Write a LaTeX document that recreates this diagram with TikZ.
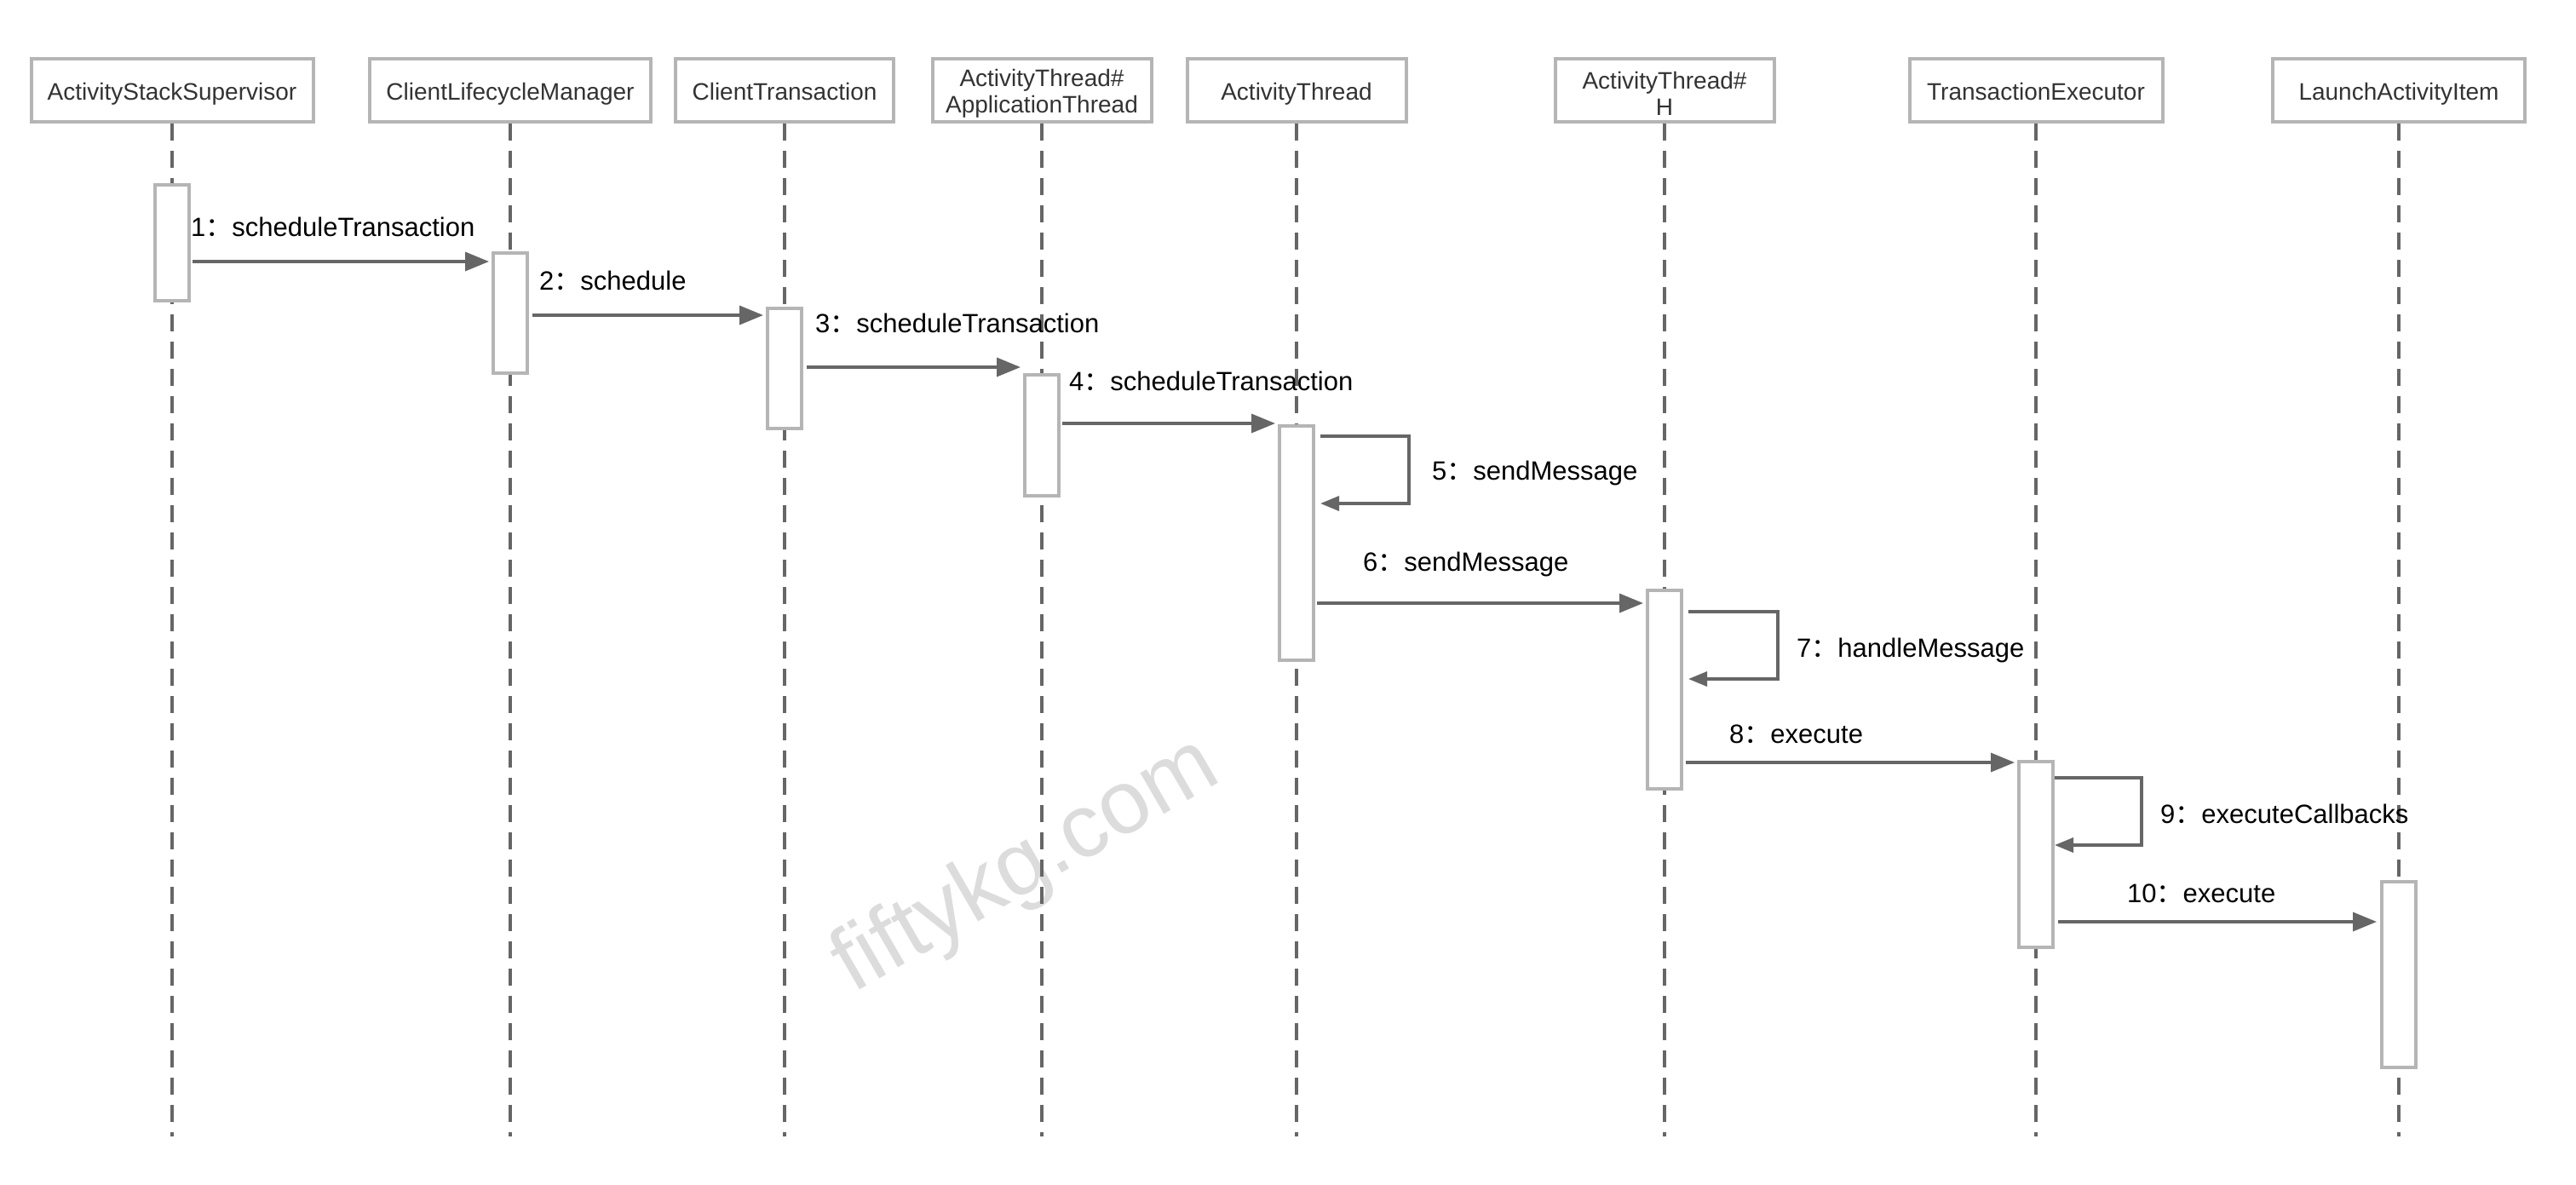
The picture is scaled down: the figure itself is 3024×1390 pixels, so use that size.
\documentclass[tikz,border=0pt]{standalone}
\usepackage{fontspec}
\setmainfont{Liberation Sans}
\newfontfamily\cjk{Noto Sans CJK SC}
\usetikzlibrary{arrows.meta,calc}
\definecolor{boxgray}{HTML}{B5B5B5}
\definecolor{linegray}{HTML}{666666}
\definecolor{hdrtext}{HTML}{333333}
\definecolor{wmgray}{HTML}{DCDCDC}
\newcommand{\fwcolon}{{\cjk ：}}
\begin{document}
\begin{tikzpicture}[x=1pt,y=-1pt,
  header/.style={draw=boxgray,line width=4pt,fill=white,minimum height=74pt,inner sep=0pt},
  hdrtxt/.style={inner sep=0pt,align=center,text=hdrtext,font=\fontsize{28}{31}\selectfont},
  hdrone/.style={hdrtxt,anchor=base},
  act/.style={draw=boxgray,line width=4pt,fill=white,minimum width=40pt,inner sep=0pt},
  lifeline/.style={draw=linegray,line width=4pt,dash pattern=on 20pt off 12pt},
  msg/.style={draw=linegray,line width=3.5pt,-{Triangle[length=28pt,width=22pt]}},
  selfmsg/.style={draw=linegray,line width=3.5pt,-{Triangle[length=22pt,width=17pt]}},
  lbl/.style={anchor=base west,inner sep=0pt,font=\fontsize{31}{36}\selectfont},
  watermark/.style={text=wmgray,font=\fontsize{105}{110}\selectfont,rotate=30,inner sep=0pt}
]
\fill[white] (0,0) rectangle (3024,1390);
\useasboundingbox (0,0) rectangle (3024,1390);

% watermark
\node[watermark] (wm) at (1205,1018) {fiftykg.com};

% headers
\node[header,minimum width=331pt] (H1) at (202,106) {};
\node[header,minimum width=330pt] (H2) at (599,106) {};
\node[header,minimum width=256pt] (H3) at (921,106) {};
\node[header,minimum width=257pt] (H4) at (1223,106) {};
\node[header,minimum width=257pt] (H5) at (1522,106) {};
\node[header,minimum width=257pt] (H6) at (1954,106) {};
\node[header,minimum width=297pt] (H7) at (2390,106) {};
\node[header,minimum width=296pt] (H8) at (2816,106) {};
\node[hdrone] (T1) at ([yshift=-11pt]H1.center) {ActivityStackSupervisor};
\node[hdrone] (T2) at ([yshift=-11pt]H2.center) {ClientLifecycleManager};
\node[hdrone] (T3) at ([yshift=-11pt]H3.center) {ClientTransaction};
\node[hdrtxt] (T4) at ([yshift=-4pt]H4.center) {ActivityThread\#\\ApplicationThread};
\node[hdrone] (T5) at ([yshift=-11pt]H5.center) {ActivityThread};
\node[hdrtxt] (T6) at ([yshift=-4pt]H6.center) {ActivityThread\#\\H};
\node[hdrone] (T7) at ([yshift=-11pt]H7.center) {TransactionExecutor};
\node[hdrone] (T8) at ([yshift=-11pt]H8.center) {LaunchActivityItem};

% lifeline ends
\foreach \i in {1,...,8} {
  \coordinate (E\i) at (H\i.south |- 0,1334);
  \draw[lifeline] (H\i.south) -- (E\i);
}

% activations
\node[act,minimum height=136pt] (A1) at (H1.south |- 0,285) {};
\node[act,minimum height=141pt] (A2) at (H2.south |- 0,367.5) {};
\node[act,minimum height=141pt] (A3) at (H3.south |- 0,432.5) {};
\node[act,minimum height=142pt] (A4) at (H4.south |- 0,511) {};
\node[act,minimum height=275pt] (A5) at (H5.south |- 0,637.5) {};
\node[act,minimum height=233pt] (A6) at (H6.south |- 0,809.5) {};
\node[act,minimum height=218pt] (A7) at (H7.south |- 0,1003) {};
\node[act,minimum height=218pt] (A8) at (H8.south |- 0,1144) {};

% messages
\draw[msg] ([xshift=2pt]A1.east |- 0,307) -- ([xshift=-3pt]A2.west |- 0,307);
\draw[msg] ([xshift=4pt]A2.east |- 0,370) -- ([xshift=-3pt]A3.west |- 0,370);
\draw[msg] ([xshift=4pt]A3.east |- 0,431) -- ([xshift=-3pt]A4.west |- 0,431);
\draw[msg] ([xshift=2pt]A4.east |- 0,497) -- ([xshift=-3pt]A5.west |- 0,497);
\draw[selfmsg] ($(A5.north east)+(6,14)$) -- ++(104,0) -- ++(0,79) -- ++(-104,0);
\draw[msg] ([xshift=2pt]A5.east |- 0,708) -- ([xshift=-3pt]A6.west |- 0,708);
\draw[selfmsg] ($(A6.north east)+(6,27)$) -- ++(105,0) -- ++(0,79) -- ++(-105,0);
\draw[msg] ([xshift=3pt]A6.east |- 0,895) -- ([xshift=-3pt]A7.west |- 0,895);
\draw[selfmsg] ($(A7.north east)+(0,21)$) -- ++(102,0) -- ++(0,79) -- ++(-102,0);
\draw[msg] ([xshift=4pt]A7.east |- 0,1082) -- ([xshift=-4pt]A8.west |- 0,1082);

% labels
\node[lbl] (L1) at (224,277) {1\fwcolon scheduleTransaction};
\node[lbl] (L2) at (633,340) {2\fwcolon schedule};
\node[lbl] (L3) at (957,390) {3\fwcolon scheduleTransaction};
\node[lbl] (L4) at (1255,458) {4\fwcolon scheduleTransaction};
\node[lbl] (L5) at (1681,563) {5\fwcolon sendMessage};
\node[lbl] (L6) at (1600,670) {6\fwcolon sendMessage};
\node[lbl] (L7) at (2109,771) {7\fwcolon handleMessage};
\node[lbl] (L8) at (2030,872) {8\fwcolon execute};
\node[lbl] (L9) at (2536,966) {9\fwcolon executeCallbacks};
\node[lbl] (L10) at (2497,1059) {10\fwcolon execute};
\end{tikzpicture}
\end{document}
